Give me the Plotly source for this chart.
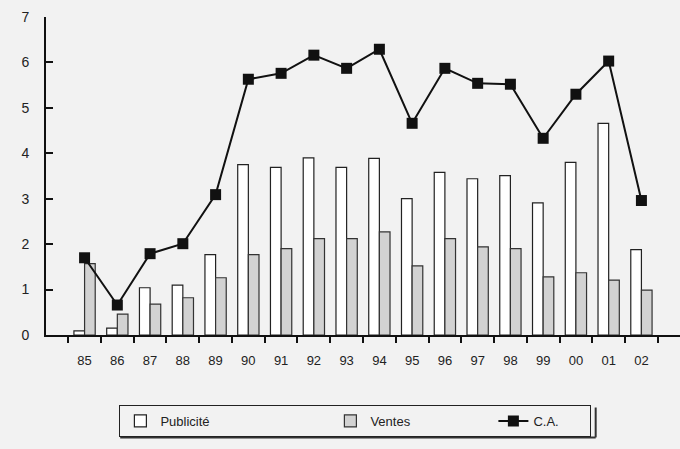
import plotly.graph_objects as go

years = ["85", "86", "87", "88", "89", "90", "91", "92", "93", "94", "95",
         "96", "97", "98", "99", "00", "01", "02"]
publicite = [0.09, 0.15, 1.04, 1.10, 1.77, 3.75, 3.69, 3.90, 3.69, 3.89, 3.00,
             3.58, 3.44, 3.51, 2.91, 3.80, 4.66, 1.88]
ventes = [1.57, 0.46, 0.68, 0.82, 1.26, 1.77, 1.90, 2.12, 2.12, 2.27, 1.52,
          2.12, 1.94, 1.90, 1.28, 1.37, 1.21, 0.99]
ca = [1.70, 0.66, 1.79, 2.01, 3.09, 5.63, 5.76, 6.16, 5.87, 6.29, 4.66,
      5.87, 5.54, 5.52, 4.33, 5.30, 6.03, 2.96]
y_ticks = [0, 1, 2, 3, 4, 5, 6, 7]

FONT = "Liberation Sans Narrow, Liberation Sans, Arial, sans-serif"
BG = "#f2f2f2"

fig = go.Figure()
fig.add_trace(go.Bar(
    x=years, y=publicite, name="Publicité",
    marker=dict(color="white", line=dict(color="#222222", width=1.2)),
    legendwidth=165,
))
fig.add_trace(go.Bar(
    x=years, y=ventes, name="Ventes",
    marker=dict(color="#d2d2d2", line=dict(color="#333333", width=1.2)),
    legendwidth=118,
))
fig.add_trace(go.Scatter(
    x=years, y=ca, name="C.A.", mode="lines+markers",
    line=dict(color="#111111", width=2),
    marker=dict(symbol="square", size=11, color="#111111"),
    legendwidth=52,
))

# legend drop shadow (decoration)
fig.add_shape(type="line", xref="paper", yref="paper",
              x0=0.117, x1=0.867, y0=-0.322, y1=-0.322,
              line=dict(color="#333333", width=2), layer="below")
fig.add_shape(type="line", xref="paper", yref="paper",
              x0=0.867, x1=0.867, y0=-0.228, y1=-0.322,
              line=dict(color="#333333", width=2), layer="below")

fig.update_layout(
    width=680, height=449,
    margin=dict(l=46, r=0, t=17, b=114),
    paper_bgcolor=BG, plot_bgcolor=BG,
    font=dict(family=FONT, size=12, color="#222222"),
    barmode="group", bargap=0.35, bargroupgap=0,
    showlegend=True,
    legend=dict(
        orientation="h", x=0.488, xanchor="center", y=-0.22, yanchor="top",
        bordercolor="#222222", borderwidth=1, bgcolor=BG,
        font=dict(family=FONT, size=13, color="#222222"),
        traceorder="normal",
    ),
    xaxis=dict(
        showline=True, linecolor="#111111", linewidth=2,
        ticks="outside", ticklen=6, tickwidth=1.5, tickcolor="#111111",
        tickson="boundaries", showgrid=False, zeroline=False,
        tickfont=dict(family=FONT, size=13, color="#222222"),
        ticklabelstandoff=12, automargin=False,
    ),
    yaxis=dict(
        range=[0, 7], tickvals=y_ticks,
        showline=True, linecolor="#111111", linewidth=2,
        ticks="inside", ticklen=7, tickwidth=1.5, tickcolor="#111111",
        showgrid=False, zeroline=False,
        tickfont=dict(family=FONT, size=14, color="#222222"),
        ticklabelstandoff=12, automargin=False,
    ),
)

fig.write_html("out.html", config={"displayModeBar": False},
               post_script="document.body.style.margin='0';")
